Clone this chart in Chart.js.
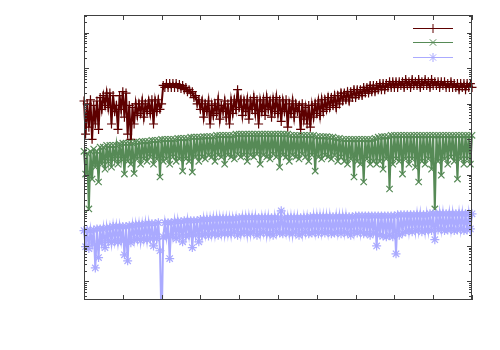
<!DOCTYPE html>
<html lang="en">
<head>
    <meta charset="UTF-8">
    <title>Log plot</title>
    <script src="https://cdn.jsdelivr.net/npm/chart.js@4.4.1/dist/chart.umd.min.js"></script>
    <style>body { margin: 0; background: #fff; }</style>
</head>
<body>
    <div style="width: 500px; height: 350px;">
        <canvas id="chart" width="500" height="350"></canvas>
    </div>

    <script>
        // one value per sample, sample index runs 0..240
        var redValues = [
            1.2e5, 1.4e4, 1.0e5, 2.2e4, 1.3e5, 1.0e4, 9.0e4, 2.7e4, 1.2e5, 1.9e4,
            1.5e5, 7.0e4, 1.7e5, 9.0e4, 2.0e5, 7.9e4, 2.0e5, 2.7e4, 1.7e5, 6.1e4,
            9.0e4, 1.9e4, 1.7e5, 7.0e4, 2.2e5, 4.2e4, 2.0e5, 1.4e4, 9.0e4, 1.0e4,
            7.9e4, 2.7e4, 1.0e5, 4.7e4, 1.0e5, 5.4e4, 1.2e5, 4.2e4, 1.0e5, 6.1e4,
            1.2e5, 5.4e4, 1.3e5, 2.7e4, 1.2e5, 6.1e4, 1.3e5, 7.0e4, 1.0e5, 3.3e5,
            2.9e5, 3.7e5, 2.9e5, 3.7e5, 2.9e5, 3.7e5, 2.9e5, 3.7e5, 2.9e5, 3.5e5,
            2.7e5, 3.3e5, 2.5e5, 2.9e5, 2.2e5, 2.5e5, 2.0e5, 2.2e5, 1.5e5, 1.7e5,
            1.0e5, 1.3e5, 7.0e4, 1.2e5, 4.2e4, 1.0e5, 6.1e4, 1.2e5, 2.7e4, 9.0e4,
            4.7e4, 1.0e5, 5.4e4, 1.3e5, 3.7e4, 9.0e4, 6.1e4, 1.2e5, 4.2e4, 1.0e5,
            2.7e4, 1.2e5, 5.4e4, 1.3e5, 7.0e4, 2.5e5, 7.9e4, 1.3e5, 4.7e4, 1.2e5,
            6.1e4, 1.3e5, 3.7e4, 1.2e5, 7.0e4, 1.5e5, 5.4e4, 1.3e5, 2.7e4, 1.2e5,
            6.1e4, 1.3e5, 4.7e4, 1.5e5, 7.0e4, 1.2e5, 4.2e4, 1.3e5, 6.1e4, 1.5e5,
            5.4e4, 1.3e5, 3.2e4, 1.2e5, 6.1e4, 1.3e5, 2.2e4, 1.0e5, 5.4e4, 1.2e5,
            4.2e4, 1.0e5, 6.1e4, 9.0e4, 1.9e4, 1.0e5, 3.7e4, 7.9e4, 2.7e4, 9.0e4,
            2.2e4, 9.0e4, 4.2e4, 1.0e5, 5.4e4, 1.2e5, 4.7e4, 1.3e5, 6.1e4, 1.3e5,
            7.0e4, 1.5e5, 7.9e4, 1.5e5, 9.0e4, 1.7e5, 7.9e4, 1.7e5, 1.0e5, 2.0e5,
            1.2e5, 2.0e5, 1.3e5, 2.2e5, 1.2e5, 2.2e5, 1.5e5, 2.5e5, 1.5e5, 2.5e5,
            1.7e5, 2.5e5, 1.7e5, 2.9e5, 2.0e5, 2.9e5, 2.0e5, 3.3e5, 2.2e5, 3.3e5,
            2.2e5, 3.3e5, 2.5e5, 3.7e5, 2.5e5, 3.7e5, 2.5e5, 3.7e5, 2.9e5, 4.2e5,
            2.9e5, 4.2e5, 2.9e5, 4.2e5, 2.9e5, 4.2e5, 3.3e5, 4.2e5, 2.9e5, 4.8e5,
            3.3e5, 4.2e5, 2.9e5, 4.8e5, 3.3e5, 4.2e5, 3.3e5, 4.8e5, 2.9e5, 4.2e5,
            3.3e5, 4.8e5, 3.3e5, 4.2e5, 2.9e5, 4.8e5, 3.3e5, 4.2e5, 3.3e5, 4.2e5,
            2.9e5, 4.2e5, 3.3e5, 4.2e5, 2.9e5, 3.7e5, 2.9e5, 4.2e5, 2.9e5, 3.7e5,
            2.9e5, 3.7e5, 2.5e5, 3.7e5, 2.9e5, 3.7e5, 2.5e5, 3.7e5, 2.9e5, 3.7e5,
            2.9e5
        ]
        var greenValues = [
            4.6e3, 1.05e3, 4.0e3, 110, 4.6e3, 760, 5.3e3, 1.65e3, 4.6e3, 630,
            6.0e3, 2.0e3, 6.0e3, 1.45e3, 6.8e3, 2.4e3, 6.8e3, 1.65e3, 6.8e3, 2.8e3,
            6.8e3, 2.0e3, 7.3e3, 2.8e3, 7.8e3, 1.05e3, 7.8e3, 2.4e3, 7.8e3, 2.0e3,
            7.8e3, 1.1e3, 8.3e3, 2.8e3, 8.3e3, 2.0e3, 8.8e3, 2.8e3, 8.8e3, 2.4e3,
            8.8e3, 3.2e3, 9.4e3, 2.0e3, 9.4e3, 2.8e3, 9.4e3, 870, 1.0e4, 2.4e3,
            1.0e4, 2.8e3, 1.0e4, 2.0e3, 1.0e4, 3.2e3, 1.0e4, 2.4e3, 1.07e4, 2.8e3,
            1.07e4, 1.28e3, 1.07e4, 2.8e3, 1.07e4, 2.4e3, 1.15e4, 1.2e3, 1.15e4, 3.2e3,
            1.15e4, 2.4e3, 1.15e4, 3.2e3, 1.2e4, 2.8e3, 1.2e4, 3.6e3, 1.2e4, 3.2e3,
            1.2e4, 2.4e3, 1.3e4, 3.6e3, 1.3e4, 3.2e3, 1.3e4, 2.0e3, 1.3e4, 3.6e3,
            1.3e4, 3.2e3, 1.3e4, 2.8e3, 1.4e4, 3.8e3, 1.4e4, 3.2e3, 1.4e4, 3.6e3,
            1.4e4, 2.4e3, 1.4e4, 3.6e3, 1.4e4, 3.2e3, 1.4e4, 3.8e3, 1.4e4, 2.0e3,
            1.4e4, 3.6e3, 1.4e4, 3.2e3, 1.4e4, 2.8e3, 1.4e4, 3.8e3, 1.4e4, 3.2e3,
            1.4e4, 1.65e3, 1.4e4, 3.6e3, 1.4e4, 3.2e3, 1.4e4, 2.4e3, 1.3e4, 3.6e3,
            1.3e4, 3.2e3, 1.3e4, 2.8e3, 1.3e4, 3.8e3, 1.3e4, 3.2e3, 1.3e4, 2.4e3,
            1.3e4, 3.6e3, 1.3e4, 1.28e3, 1.2e4, 3.2e3, 1.2e4, 2.8e3, 1.2e4, 3.6e3,
            1.2e4, 3.2e3, 1.15e4, 2.8e3, 1.15e4, 3.6e3, 1.07e4, 2.4e3, 1.07e4, 3.2e3,
            1.0e4, 2.4e3, 1.0e4, 2.0e3, 1.0e4, 2.8e3, 1.0e4, 870, 1.0e4, 2.4e3,
            1.0e4, 2.0e3, 1.0e4, 630, 1.0e4, 2.8e3, 1.0e4, 2.0e3, 1.0e4, 2.4e3,
            1.07e4, 2.0e3, 1.15e4, 2.4e3, 1.2e4, 1.45e3, 1.2e4, 2.8e3, 1.2e4, 400,
            1.3e4, 2.0e3, 1.3e4, 2.8e3, 1.3e4, 2.4e3, 1.3e4, 1.05e3, 1.3e4, 2.8e3,
            1.3e4, 2.0e3, 1.3e4, 2.8e3, 1.3e4, 1.65e3, 1.3e4, 630, 1.3e4, 2.4e3,
            1.3e4, 2.0e3, 1.3e4, 2.8e3, 1.3e4, 1.45e3, 1.3e4, 110, 1.3e4, 2.4e3,
            1.3e4, 980, 1.3e4, 2.8e3, 1.3e4, 2.0e3, 1.3e4, 3.2e3, 1.3e4, 2.4e3,
            1.3e4, 760, 1.3e4, 2.8e3, 1.3e4, 2.0e3, 1.3e4, 2.8e3, 1.3e4, 2.0e3,
            1.3e4
        ]
        var blueValues = [
            27, 9.5, 28, 8.4, 27, 11.5, 28, 2.4, 30, 4.7,
            30, 12.3, 30, 9, 32, 14, 32, 12.3, 35, 14,
            35, 13, 35, 14, 35, 5.6, 35, 3.8, 37, 12.3,
            37, 15, 39, 16, 39, 14, 39, 16, 42, 15,
            42, 16, 42, 10, 42, 16, 45, 7.3, 0.05, 18,
            45, 18, 45, 4.4, 45, 19, 48, 16, 48, 19,
            48, 13, 51, 19, 51, 20, 51, 9, 51, 20,
            51, 13, 55, 20, 55, 22, 55, 19, 55, 22,
            58, 22, 58, 20, 58, 23, 58, 22, 58, 23,
            58, 22, 58, 25, 58, 20, 62, 23, 62, 25,
            62, 22, 62, 23, 62, 25, 62, 20, 62, 23,
            62, 25, 62, 22, 62, 23, 62, 20, 62, 25,
            62, 23, 97, 22, 62, 25, 62, 23, 62, 22,
            62, 25, 62, 20, 62, 23, 62, 25, 62, 22,
            66, 23, 66, 25, 66, 22, 66, 25, 66, 23,
            66, 25, 66, 22, 66, 23, 66, 25, 66, 22,
            66, 25, 66, 23, 66, 20, 66, 25, 70, 23,
            70, 25, 70, 22, 70, 23, 70, 20, 70, 23,
            70, 10, 70, 20, 70, 19, 70, 18, 70, 20,
            70, 18, 70, 6.0, 75, 20, 75, 23, 75, 25,
            75, 27, 75, 25, 75, 27, 75, 28, 75, 25,
            75, 27, 75, 28, 80, 27, 80, 15, 80, 28,
            80, 30, 80, 27, 80, 28, 80, 30, 80, 27,
            80, 28, 80, 30, 80, 27, 80, 28, 80, 30,
            80
        ]
        var xTicks = [0, 24, 48, 72, 96, 120, 144, 168, 192, 216, 240]
        var yMajorTicks = [1, 10, 100, 1e3, 1e4, 1e5, 1e6, 1e7]
        var yMin = Math.pow(10, -0.5)
        var yMax = Math.pow(10, 7.5)

        var seriesColors = ['#5e0000', '#568a56', '#aaaaff']
        var seriesMarkers = ['cross', 'crossRot', 'star']

        function toPoints(vals) {
            return vals.map(function(v, i) { return {x: i, y: v} })
        }

        // gnuplot style frame, inward ticks, and a line+marker key
        var framePlugin = {
            id: 'frame',
            afterDatasetsDraw: function(chart) {
                var ctx = chart.ctx, a = chart.chartArea
                var xs = chart.scales.x, ys = chart.scales.y
                ctx.save()
                ctx.strokeStyle = '#404040'
                ctx.lineWidth = 1
                ctx.beginPath()
                xTicks.forEach(function(t) {
                    var px = Math.round(xs.getPixelForValue(t)) + 0.5
                    ctx.moveTo(px, a.bottom); ctx.lineTo(px, a.bottom - 5)
                    ctx.moveTo(px, a.top); ctx.lineTo(px, a.top + 5)
                })
                yMajorTicks.forEach(function(t) {
                    var py = Math.round(ys.getPixelForValue(t)) + 0.5
                    ctx.moveTo(a.left, py); ctx.lineTo(a.left + 5, py)
                    ctx.moveTo(a.right, py); ctx.lineTo(a.right - 5, py)
                })
                for (var e = -1; e <= 7; e++) {
                    for (var m = 2; m <= 9; m++) {
                        var v = m * Math.pow(10, e)
                        if (v < yMin || v > yMax) continue
                        var py = Math.round(ys.getPixelForValue(v)) + 0.5
                        ctx.moveTo(a.left, py); ctx.lineTo(a.left + 3, py)
                        ctx.moveTo(a.right, py); ctx.lineTo(a.right - 3, py)
                    }
                }
                ctx.stroke()
                ctx.strokeRect(a.left + 0.5, a.top + 0.5, a.right - a.left - 1, a.bottom - a.top - 1)

                // key
                var keyY = [28, 42, 57]
                for (var i = 0; i < 3; i++) {
                    ctx.strokeStyle = seriesColors[i]
                    ctx.fillStyle = seriesColors[i]
                    ctx.lineWidth = 1
                    ctx.beginPath()
                    ctx.moveTo(413, keyY[i] + 0.5)
                    ctx.lineTo(453, keyY[i] + 0.5)
                    ctx.stroke()
                    if (Chart.helpers && Chart.helpers.drawPoint) {
                        Chart.helpers.drawPoint(ctx, {pointStyle: seriesMarkers[i], radius: 4.5, rotation: 0, borderWidth: 1.2}, 433, keyY[i] + 0.5)
                    }
                }
                ctx.restore()
            }
        }

        var seriesData = [redValues, greenValues, blueValues]
        var datasets = seriesData.map(function(vals, i) {
            return {
                label: '',
                data: toPoints(vals),
                borderColor: seriesColors[i],
                backgroundColor: seriesColors[i],
                pointBorderColor: seriesColors[i],
                borderWidth: 2,
                pointStyle: seriesMarkers[i],
                pointRadius: 4.5,
                pointBorderWidth: 1.2,
                fill: false,
                tension: 0,
                order: 2 - i,
                clip: {left: 8, top: 8, right: 8, bottom: 0}
            }
        })

        var ctx = document.getElementById('chart').getContext('2d')
        var myChart = new Chart(ctx, {
            type: 'line',
            data: { datasets: datasets },
            options: {
                responsive: false,
                animation: false,
                devicePixelRatio: 1,
                layout: { padding: {left: 84, right: 28, top: 15, bottom: 50} },
                plugins: { legend: { display: false }, tooltip: { enabled: false } },
                scales: {
                    x: { type: 'linear', min: 0, max: 240, display: false },
                    y: { type: 'logarithmic', min: yMin, max: yMax, display: false }
                }
            },
            plugins: [framePlugin]
        })
    </script>
</body>
</html>
